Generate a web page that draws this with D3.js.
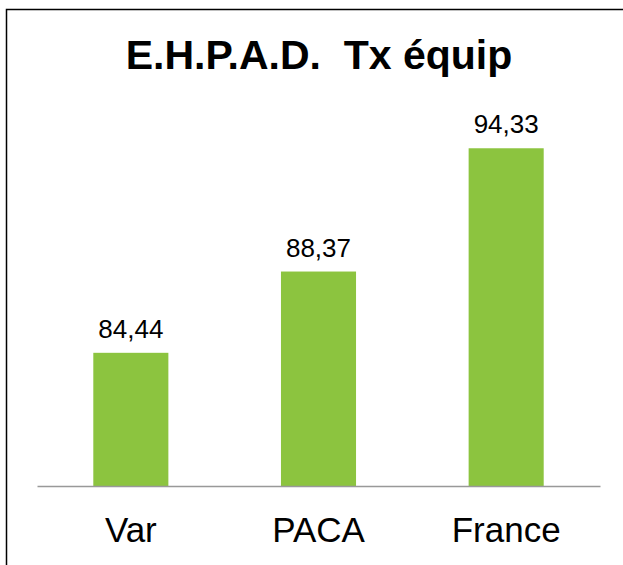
<!DOCTYPE html>
<html>
<head>
<meta charset="utf-8">
<script src="https://cdn.jsdelivr.net/npm/d3@7"></script>
<style>
  body { margin: 0; background: #fff; }
  svg { display: block; font-family: "Liberation Sans", Arial, sans-serif; }
</style>
</head>
<body>
<svg width="623" height="565"></svg>
<script>
// donnees du graphique
var categories = ["Var", "PACA", "France"];
var valeurs = [84.44, 88.37, 94.33];
var titre = "E.H.P.A.D.  Tx équip";

var svg = d3.select("svg"),
    margin = { top: 31, right: 23, bottom: 79, left: 37 },
    width = +svg.attr("width") - margin.left - margin.right,
    height = +svg.attr("height") - margin.top - margin.bottom;

// cadre (seulement haut et gauche visibles)
svg.append("rect")
    .attr("x", 6.5).attr("y", 9.5)
    .attr("width", 700).attr("height", 700)
    .attr("fill", "none")
    .attr("stroke", "#000")
    .attr("stroke-width", 1.5);

svg.append("text")
    .attr("x", 319)
    .attr("y", 69)
    .attr("text-anchor", "middle")
    .attr("font-size", 41)
    .attr("font-weight", "bold")
    .attr("fill", "#000")
    .style("white-space", "pre")
    .text(titre);

var data = categories.map(function (c, i) {
    return { cat: c, val: valeurs[i] };
});

var xAs = d3.scaleBand().domain(categories).range([0, width])
        .paddingInner(0.6).paddingOuter(0.3),
    yAs = d3.scaleLinear().domain([78, 100]).range([height, 0]);

var groep = svg.append("g")
    .attr("transform", "translate(" + margin.left + "," + margin.top + ")");

groep.selectAll(".bar")
    .data(data)
    .enter().append("rect")
    .attr("class", "bar")
    .attr("x", function (d) { return xAs(d.cat); })
    .attr("y", function (d) { return yAs(d.val); })
    .attr("width", xAs.bandwidth())
    .attr("height", function (d) { return height - yAs(d.val); })
    .attr("fill", "#8cc43f");

var fmt = function (v) { return d3.format(".2f")(v).replace(".", ","); };

groep.selectAll(".label")
    .data(data)
    .enter().append("text")
    .attr("class", "label")
    .attr("x", function (d) { return xAs(d.cat) + xAs.bandwidth() / 2; })
    .attr("y", function (d) { return yAs(d.val) - 15; })
    .attr("text-anchor", "middle")
    .attr("font-size", 26)
    .attr("fill", "#000")
    .text(function (d) { return fmt(d.val); });

var xAxis = groep.append("g")
    .attr("transform", "translate(0," + height + ")")
    .call(d3.axisBottom(xAs).tickSize(0).tickPadding(31));

xAxis.select(".domain").attr("stroke", "#999").attr("stroke-width", 1.5);
xAxis.selectAll("text")
    .attr("font-size", 35)
    .attr("font-family", "Liberation Sans, Arial, sans-serif")
    .attr("fill", "#000");
</script>
</body>
</html>
